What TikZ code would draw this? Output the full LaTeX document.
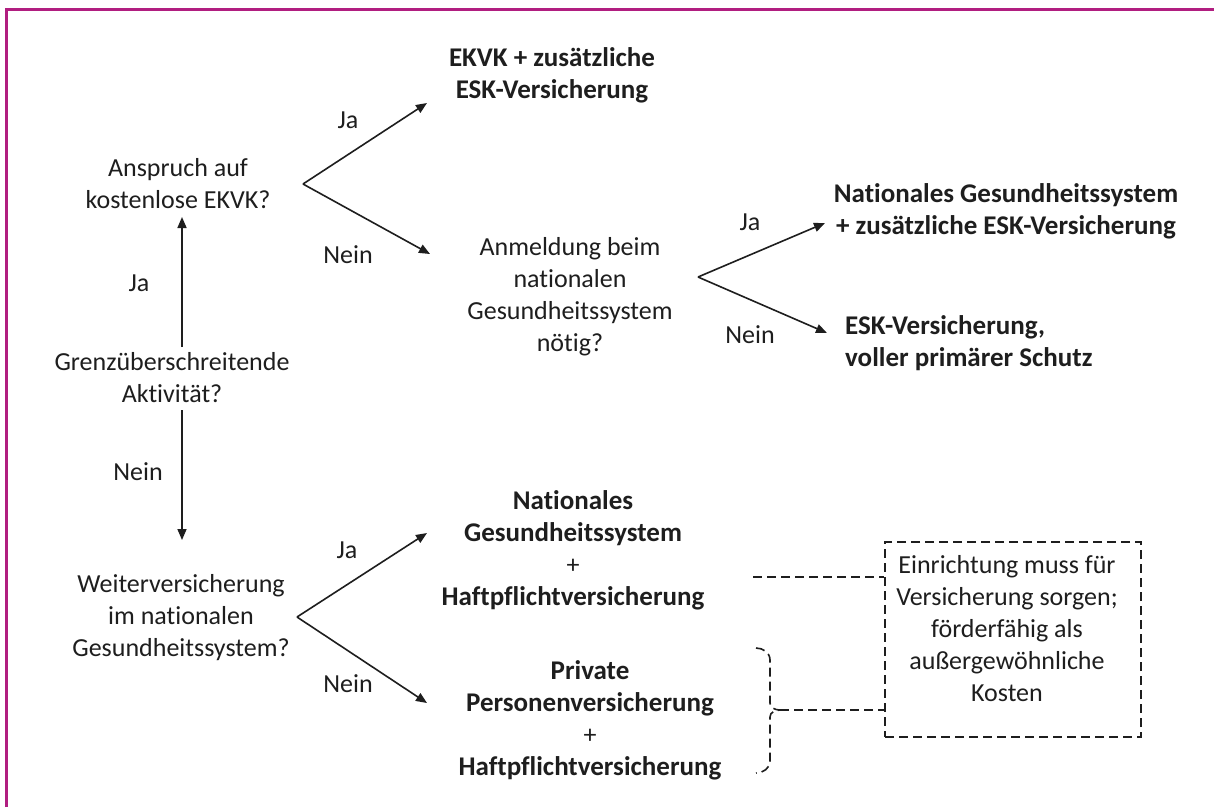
\documentclass[tikz,border=0pt]{standalone}
\usepackage{fontspec}
\setmainfont{Carlito}[Ligatures={NoCommon}]
\usetikzlibrary{arrows.meta}
\definecolor{frame}{RGB}{177,30,128}
\definecolor{ink}{RGB}{30,30,30}
\begin{document}
\begin{tikzpicture}[x=1pt,y=-1pt,
  txt/.style={font=\fontsize{26}{32}\selectfont, text=ink, align=center, inner sep=0pt},
  btxt/.style={font=\fontsize{27}{32}\selectfont\bfseries, text=ink, align=center, inner sep=0pt},
  arr/.style={draw=ink, line width=1.6pt, -{Triangle[length=11pt,width=9pt]}},
  dsh/.style={draw=ink, line width=1.6pt, dash pattern=on 9pt off 5pt}]
\useasboundingbox (0,0) rectangle (1214,807);
\fill[white] (0,0) rectangle (1214,807);
\draw[frame, line width=2.5pt] (6.5,807) -- (6.5,9.5) -- (1214,9.5);

% nodes
\node[btxt] (ekvk) at (552,75) {EKVK + zusätzliche\\ESK-Versicherung};
\node[txt] (anspruch) at (178,184) {Anspruch auf\\kostenlose EKVK?};
\node[txt] (anmeld) at (570,297) {Anmeldung beim\\nationalen\\Gesundheitssystem\\nötig?};
\node[btxt] (nat1) at (1006,211) {Nationales Gesundheitssystem\\+ zusätzliche ESK-Versicherung};
\node[btxt, align=left, anchor=west] (esk) at (845,343) {ESK-Versicherung,\\voller primärer Schutz};
\node[txt] (grenz) at (172,378) {Grenzüberschreitende\\Aktivität?};
\node[txt] (weiter) at (181,618) {Weiterversicherung\\im nationalen\\Gesundheitssystem?};
\node[txt] (nat2) at (573,550) {\fontsize{27}{32}\selectfont\bfseries Nationales\\\fontsize{27}{32}\selectfont\bfseries Gesundheitssystem\\+\\\fontsize{27}{32}\selectfont\bfseries Haftpflichtversicherung};
\node[txt] (priv) at (590,720) {\fontsize{27}{32}\selectfont\bfseries Private\\\fontsize{27}{32}\selectfont\bfseries Personenversicherung\\+\\\fontsize{27}{32}\selectfont\bfseries Haftpflichtversicherung};
\node[dsh, minimum width=256pt, minimum height=195pt, inner sep=0pt] (box) at (1013,639.5) {};
\node[txt] (boxtxt) at (1007,629) {Einrichtung muss für\\Versicherung sorgen;\\förderfähig als\\außergewöhnliche\\Kosten};

% labels
\node[txt] (l1) at (348,120) {Ja};
\node[txt] (l2) at (348,255) {Nein};
\node[txt] (l3) at (750,222) {Ja};
\node[txt] (l4) at (750,335) {Nein};
\node[txt] (l5) at (139,283) {Ja};
\node[txt] (l6) at (138,472) {Nein};
\node[txt] (l7) at (347,550) {Ja};
\node[txt] (l8) at (348,684) {Nein};

% coordinates
\coordinate (v1) at (303,184);
\coordinate (t1) at (427,103);
\coordinate (t2) at (430,254);
\coordinate (v2) at (698,277);
\coordinate (t3) at (825,223);
\coordinate (t4) at (827,333);
\coordinate (v3) at (297,617);
\coordinate (t5) at (427,533);
\coordinate (t6) at (427,703);
\coordinate (g1) at (182,347);
\coordinate (a1) at (182,217);
\coordinate (g2) at (182,410);
\coordinate (w1) at (182,540);
\coordinate (d1) at (753,577);
\coordinate (bt) at (780,710);

% connectors
\draw[arr] (v1) -- (t1);
\draw[arr] (v1) -- (t2);
\draw[arr] (v2) -- (t3);
\draw[arr] (v2) -- (t4);
\draw[arr] (v3) -- (t5);
\draw[arr] (v3) -- (t6);
\draw[arr] (g1) -- (a1);
\draw[arr] (g2) -- (w1);
\draw[dsh] (d1) -- (box.west |- d1);
\draw[dsh] (756,648) to[out=0,in=90] (770,660) -- (770,703) to[out=-90,in=180] (bt)
  to[out=180,in=90] (770,717) -- (770,761) to[out=-90,in=0] (756,773);
\draw[dsh] (bt) -- (box.west |- bt);
\end{tikzpicture}
\end{document}
